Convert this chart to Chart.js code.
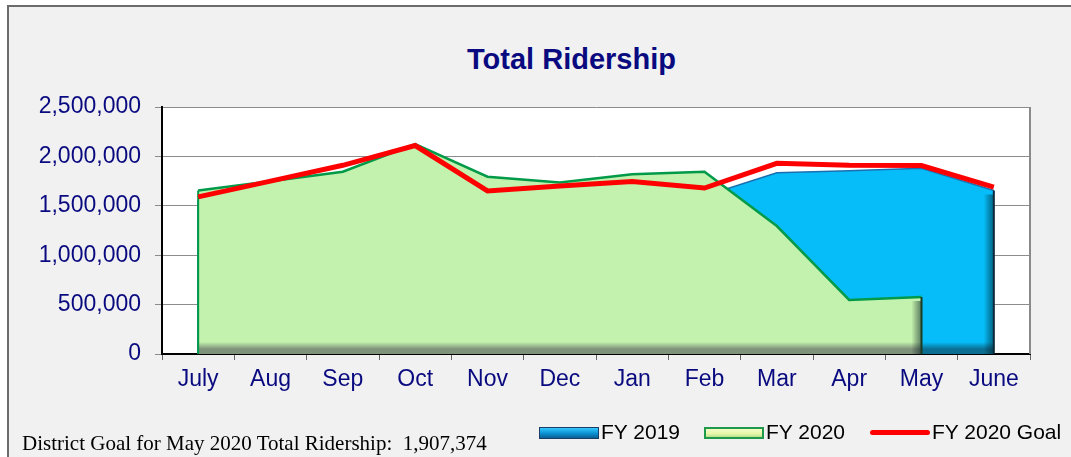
<!DOCTYPE html>
<html>
<head>
<meta charset="utf-8">
<script src="https://cdn.jsdelivr.net/npm/chart.js@4.4.1/dist/chart.umd.min.js"></script>
<style>
  html, body { margin: 0; padding: 0; background: #ffffff; }
  #wrap { position: relative; width: 1071px; height: 457px; overflow: hidden; }
  #frame {
    position: absolute; left: 7px; top: 5px; width: 1100px; height: 500px;
    background: #f1f1f1; border: 2px solid #6b6b6b; box-sizing: border-box;
  }
  #chartBox { position: absolute; left: 0; top: 0; width: 1071px; height: 457px; }
  #title {
    position: absolute; left: 0; width: 1143px; top: 43px; text-align: center;
    font: bold 29px "Liberation Sans", Arial, sans-serif; color: #0a0a80;
  }
  #note {
    position: absolute; left: 22px; top: 431px; white-space: nowrap;
    font: 21px "Liberation Serif", "Times New Roman", serif; color: #000;
  }
  .leg { position: absolute; top: 420px; font: 21px "Liberation Sans", Arial, sans-serif; color: #000; white-space: nowrap; }
  .sw { position: absolute; box-sizing: border-box; }
</style>
</head>
<body>
<div id="wrap">
  <div id="frame"></div>
  <div id="title">Total Ridership</div>
  <div id="chartBox"><canvas id="ridershipChart"></canvas></div>
  <div id="note">District Goal for May 2020 Total Ridership:&nbsp; 1,907,374</div>

  <div class="sw" style="left:539px; top:427px; width:60px; height:12px; border:1px solid #1b3d66; background:linear-gradient(#35c8ff, #0a8fd0 55%, #0b5f94);"></div>
  <div class="leg" style="left:601px;">FY 2019</div>
  <div class="sw" style="left:704px; top:427px; width:60px; height:12px; border:2px solid #1f9a4a; background:linear-gradient(#f5fbc8, #e6f7a8 60%, #b8e08a);"></div>
  <div class="leg" style="left:766px;">FY 2020</div>
  <div class="sw" style="left:870px; top:430px; width:60px; height:5px; border-radius:3px; background:#ff0000;"></div>
  <div class="leg" style="left:932px;">FY 2020 Goal</div>
</div>

<script>
// 月
const months = ["July", "Aug", "Sep", "Oct", "Nov", "Dec", "Jan", "Feb", "Mar", "Apr", "May", "June"];

// FY 2019 (前年度の実績)
const fy2019 = [1560000, 1650000, 1720000, 2010000, 1640000, 1610000, 1660000, 1600000, 1835000, 1855000, 1880000, 1655000];

// FY 2020 (今年度の実績、6月は未確定)
const fy2020 = [1655000, 1748000, 1845000, 2125000, 1795000, 1735000, 1820000, 1845000, 1295000, 547000, 577000, null];

// FY 2020 Goal
const fy2020Goal = [1590000, 1750000, 1910000, 2110000, 1650000, 1700000, 1745000, 1680000, 1930000, 1910000, 1907374, 1690000];

const yTicks = [0, 500000, 1000000, 1500000, 2000000, 2500000];

const navy = "#0a0a80";
const axisFont = { family: "'Liberation Sans', Arial, sans-serif", size: 23 };

// 下端が暗くなるグラデーション (3D風)
function bevelFill(base, dark) {
  return function (context) {
    const area = context.chart.chartArea;
    if (!area) return base;
    const g = context.chart.ctx.createLinearGradient(0, area.top, 0, area.bottom);
    const h = area.bottom - area.top;
    g.addColorStop(0, base);
    g.addColorStop(1 - 12 / h, base);
    g.addColorStop(1 - 5 / h, dark);
    g.addColorStop(1, dark);
    return g;
  };
}

// プロットエリアの背景と右枠
const plotAreaPlugin = {
  id: "plotArea",
  beforeDraw(chart) {
    const { ctx, chartArea } = chart;
    ctx.save();
    ctx.fillStyle = "#ffffff";
    ctx.fillRect(chartArea.left, chartArea.top, chartArea.right - chartArea.left, chartArea.bottom - chartArea.top);
    ctx.restore();
  },
  afterDatasetDraw(chart, args) {
    // 面グラフの左右の縁
    const ds = chart.data.datasets[args.index];
    if (ds.fill !== "origin") return;
    const meta = args.meta;
    const pts = meta.data.filter((p, i) => ds.data[i] !== null);
    if (!pts.length) return;
    const { ctx, chartArea } = chart;
    const first = pts[0];
    const last = pts[pts.length - 1];
    ctx.save();
    const g = ctx.createLinearGradient(last.x - 10, 0, last.x, 0);
    g.addColorStop(0, "rgba(0,0,0,0)");
    g.addColorStop(1, "rgba(0,30,40,0.55)");
    ctx.fillStyle = g;
    ctx.fillRect(last.x - 10, last.y + 4, 10, chartArea.bottom - last.y - 4);
    ctx.lineWidth = 2;
    ctx.strokeStyle = ds.edgeColor;
    ctx.beginPath();
    ctx.moveTo(last.x, last.y);
    ctx.lineTo(last.x, chartArea.bottom);
    ctx.stroke();
    ctx.strokeStyle = ds.borderColor;
    ctx.beginPath();
    ctx.moveTo(first.x, first.y);
    ctx.lineTo(first.x, chartArea.bottom);
    ctx.stroke();
    ctx.restore();
  },
  afterDraw(chart) {
    const { ctx, chartArea } = chart;
    ctx.save();
    ctx.strokeStyle = "#8a8a8a";
    ctx.lineWidth = 2;
    ctx.beginPath();
    ctx.moveTo(chartArea.right, chartArea.top);
    ctx.lineTo(chartArea.right, chartArea.bottom);
    ctx.stroke();
    ctx.restore();
  },
};

var ridershipConfig = {
  type: "line",
  data: {
    labels: months,
    datasets: [
      {
        label: "FY 2019",
        data: fy2019,
        borderColor: "#1b6fb0",
        edgeColor: "#0b2a3a",
        borderWidth: 1.5,
        backgroundColor: bevelFill("#06bdf9", "#0b6f93"),
        fill: "origin",
        pointRadius: 0,
        tension: 0,
        order: 3,
      },
      {
        label: "FY 2020",
        data: fy2020,
        borderColor: "#009a48",
        edgeColor: "#1d3a22",
        borderWidth: 2.5,
        backgroundColor: bevelFill("#c2f2ae", "#7f927a"),
        fill: "origin",
        pointRadius: 0,
        tension: 0,
        spanGaps: false,
        order: 2,
      },
      {
        label: "FY 2020 Goal",
        data: fy2020Goal,
        borderColor: "#ff0000",
        borderWidth: 5,
        fill: false,
        pointRadius: 0,
        tension: 0,
        order: 1,
      },
    ],
  },
  options: {
    responsive: false,
    animation: false,
    layout: {
      padding: { top: 107, right: 41, bottom: 58, left: 0 },
    },
    plugins: {
      legend: { display: false },
      title: { display: false },
      tooltip: { enabled: false },
    },
    scales: {
      x: {
        offset: true,
        grid: {
          display: true,
          drawOnChartArea: false,
          offset: true,
          tickLength: 6,
          color: "#666666",
        },
        border: { color: "#000000", width: 2 },
        ticks: { font: axisFont, color: navy, padding: 6, maxRotation: 0 },
        afterFit(scale) {
          scale.height = 45;
        },
      },
      y: {
        min: 0,
        max: 2500000,
        afterBuildTicks(scale) {
          scale.ticks = yTicks.map((v) => ({ value: v }));
        },
        grid: { color: "#8c8c8c", lineWidth: 1, tickLength: 7 },
        border: { color: "#000000", width: 2 },
        ticks: {
          font: axisFont,
          color: navy,
          padding: 14,
          callback: function (value) {
            return value.toLocaleString("en-US");
          },
        },
        afterFit(scale) {
          scale.width = 162;
        },
      },
    },
  },
  plugins: [plotAreaPlugin],
};

const canvas = document.getElementById("ridershipChart");
canvas.width = 1071;
canvas.height = 457;
canvas.style.width = "1071px";
canvas.style.height = "457px";
const ridershipChart = new Chart(canvas, ridershipConfig);
</script>
</body>
</html>
